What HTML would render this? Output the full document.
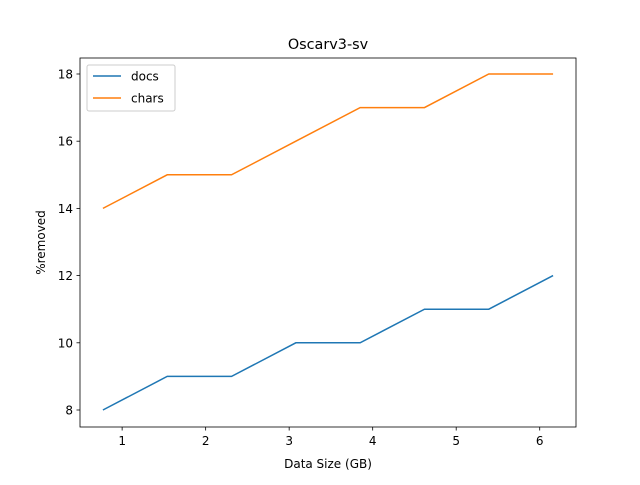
<!DOCTYPE html>
<html><head><meta charset="utf-8"><style>
body{margin:0;background:#fff;}
svg text{font-family:"DejaVu Sans","Liberation Sans",sans-serif;fill:#000;}
</style></head><body>
<svg id="chart" width="640" height="480" xmlns="http://www.w3.org/2000/svg">
<rect width="640" height="480" fill="#fff"/>
<text x="328" y="49" font-size="14.4" text-anchor="middle">Oscarv3-sv</text>
<g id="grid"></g>
<g id="series"></g>
<rect x="80" y="58" width="496" height="369" fill="none" stroke="#000" stroke-width="0.8"/>
<g id="ticks"></g>
<text x="328" y="468" font-size="12" text-anchor="middle">Data Size (GB)</text>
<text x="0" y="0" font-size="12" text-anchor="middle" transform="translate(45,242.5) rotate(-90)">%removed</text>
<g>
<rect x="87" y="65" width="88" height="46" fill="#fff" stroke="#ccc" stroke-width="1" rx="2"/>
<g><line x1="93" y1="76" x2="121" y2="76" stroke="#1f77b4" stroke-width="1.5"/><text x="131" y="80.5" font-size="12">docs</text></g>
<g><line x1="93" y1="98" x2="121" y2="98" stroke="#ff7f0e" stroke-width="1.5"/><text x="131" y="102.5" font-size="12">chars</text></g>
</g>
</svg>
<script>
const xValues=[0.77,1.54,2.31,3.08,3.85,4.62,5.39,6.16];
const docs=[8,9,9,10,10,11,11,12];
const chars=[14,15,15,16,17,17,18,18];
const xTicks=[1,2,3,4,5,6];
const yTicks=[8,10,12,14,16,18];
const NS="http://www.w3.org/2000/svg";
const L=80,R=576,T=58,B=427;
const xMin=0.4955,xMax=6.4345,yMin=7.494,yMax=18.476;
const xs=v=>L+(v-xMin)/(xMax-xMin)*(R-L);
const ys=v=>B-(v-yMin)/(yMax-yMin)*(B-T);
const sg=document.getElementById('series');
function line(data,color,name){
 const p=document.createElementNS(NS,'polyline');
 p.setAttribute('points',data.map((d,i)=>xs(xValues[i])+','+ys(d)).join(' '));
 p.setAttribute('fill','none');p.setAttribute('stroke',color);p.setAttribute('stroke-width','1.5');
 
 
 sg.appendChild(p);
}
line(docs,'#1f77b4','docs-line');
line(chars,'#ff7f0e','chars-line');
const tg=document.getElementById('ticks');
xTicks.forEach(t=>{
 const x=xs(t);
 const l=document.createElementNS(NS,'line');
 l.setAttribute('x1',x);l.setAttribute('x2',x);l.setAttribute('y1',B);l.setAttribute('y2',B+3.5);l.setAttribute('stroke','#000');l.setAttribute('stroke-width','0.8');
 
 
 tg.appendChild(l);
 const tx=document.createElementNS(NS,'text');
 tx.setAttribute('x',x);tx.setAttribute('y',B+18);tx.setAttribute('font-size','12');tx.setAttribute('text-anchor','middle');
 tx.textContent=t;
 
 
 tg.appendChild(tx);
});
yTicks.forEach(t=>{
 const y=ys(t);
 const l=document.createElementNS(NS,'line');
 l.setAttribute('x1',L-3.5);l.setAttribute('x2',L);l.setAttribute('y1',y);l.setAttribute('y2',y);l.setAttribute('stroke','#000');l.setAttribute('stroke-width','0.8');
 
 
 tg.appendChild(l);
 const tx=document.createElementNS(NS,'text');
 tx.setAttribute('x',L-7);tx.setAttribute('y',y+4.5);tx.setAttribute('font-size','12');tx.setAttribute('text-anchor','end');
 tx.textContent=t;
 
 
 tg.appendChild(tx);
});
</script>
</body></html>
